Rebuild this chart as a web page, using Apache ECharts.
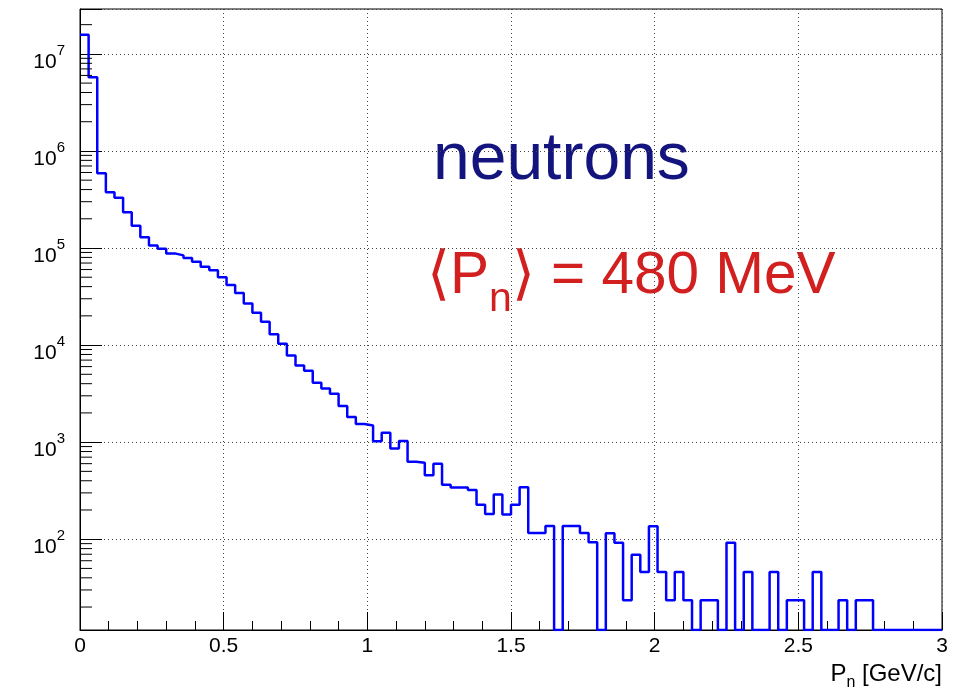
<!DOCTYPE html>
<html>
<head>
<meta charset="utf-8">
<script src="https://cdn.jsdelivr.net/npm/echarts@6/dist/echarts.min.js"></script>
<style>
html, body { margin: 0; padding: 0; background: #fff; }
#chart { width: 962px; height: 692px; }
</style>
</head>
<body>
<div id="chart"></div>
<script>
// neutron momentum histogram: 100 bins of 0.03 GeV/c between 0 and 3
const binLow = 0
const binWidth = 0.03
const counts = [
  1.57e7, 5.74e6, 5.9e5, 3.75e5, 3.3e5, 2.33e5, 1.7e5, 1.29e5, 1.06e5, 9.8e4,
  8.8e4, 8.4e4, 7.9e4, 7.2e4, 6.4e4, 5.9e4, 5.0e4, 4.16e4, 3.43e4, 2.68e4,
  2.15e4, 1.74e4, 1.29e4, 1.03e4, 7800, 6150, 5450, 4080, 3560, 3150,
  2360, 1820, 1540, 1485, 1020, 1250, 860, 1030, 628, 614,
  455, 600, 364, 340, 340, 322, 226, 182, 288, 180,
  226, 342, 116, 116, 137, 0, 137, 137, 116, 93,
  0, 115, 92, 23.5, 69, 46, 136, 46, 23.5, 46,
  23.5, 0, 23.5, 23.5, 0, 92, 0, 46, 0, 0,
  46, 0, 23.5, 23.5, 0, 46, 0, 0, 23.5, 0,
  23.5, 23.5, 0, 0, 0, 0, 0, 0, 0, 0
]
const xTicks = [0, 0.5, 1, 1.5, 2, 2.5, 3]
const yDecades = [1, 2, 3, 4, 5, 6, 7]
const yMin = 11.6
const yMax = 2.9e7

const FONT = '"Liberation Sans", Arial, Helvetica, sans-serif'

// step line through the left edge of every bin; empty bins sit on the frame like ROOT does
let histData = counts.map((c, i) => [binLow + i * binWidth, c > yMin ? c : yMin])
histData.push([xTicks[xTicks.length - 1], histData[histData.length - 1][1]])

// ROOT style minor ticks at 2..9 x 10^n
let minorVals = []
yDecades.forEach(d => {
  for (let m = 2; m <= 9; m++) {
    let v = m * Math.pow(10, d)
    if (v > yMin && v < yMax) minorVals.push([0, v])
  }
})

let myChart = echarts.init(document.getElementById('chart'))

myChart.setOption({
  animation: false,
  grid: {
    left: 80,
    right: 20,
    top: 9,
    bottom: 62,
    show: true,
    borderColor: '#000',
    borderWidth: 1
  },
  xAxis: {
    type: 'value',
    min: xTicks[0],
    max: xTicks[xTicks.length - 1],
    interval: 0.5,
    axisLine: { lineStyle: { color: '#000', width: 1 } },
    axisTick: { inside: true, length: 18, lineStyle: { color: '#000' } },
    minorTick: { show: true, splitNumber: 5, length: 9, lineStyle: { color: '#000' } },
    axisLabel: { color: '#000', fontSize: 21, fontFamily: FONT, margin: 6 },
    splitLine: { lineStyle: { type: [1, 3], color: '#444' } }
  },
  yAxis: {
    type: 'log',
    logBase: 10,
    min: yMin,
    max: yMax,
    axisLine: { show: true, lineStyle: { color: '#000', width: 1 } },
    axisTick: { inside: true, length: 22, lineStyle: { color: '#000' } },
    axisLabel: {
      margin: 15,
      padding: [8, 0, 0, 0],
      formatter: function (v) {
        let e = Math.log10(v)
        let r = Math.round(e)
        if (Math.abs(e - r) > 1e-6) return ''
        return '{b|10}{e|' + r + '}'
      },
      rich: {
        b: { fontSize: 21, fontFamily: FONT, color: '#000', verticalAlign: 'bottom' },
        e: { fontSize: 15, fontFamily: FONT, color: '#000', verticalAlign: 'bottom', padding: [0, 0, 14, 0] }
      }
    },
    splitLine: { lineStyle: { type: [1, 3], color: '#444' } }
  },
  series: [
    {
      type: 'line',
      name: 'neutrons',
      step: 'end',
      showSymbol: false,
      symbol: 'none',
      data: histData,
      lineStyle: { color: '#0000ff', width: 2.5 }
    },
    {
      type: 'custom',
      silent: true,
      z: 5,
      data: minorVals,
      renderItem: function (params, api) {
        let p = api.coord([api.value(0), api.value(1)])
        return {
          type: 'line',
          shape: { x1: p[0], y1: p[1], x2: p[0] + 12, y2: p[1] },
          style: { stroke: '#000', lineWidth: 1 }
        }
      }
    }
  ],
  graphic: [
    {
      type: 'text',
      left: 433,
      top: 128,
      style: { text: 'neutrons', font: '66px ' + FONT, fill: '#14147f' }
    },
    {
      type: 'text',
      x: 427,
      y: 320,
      style: {
        text: '{a|\u27e8P}{s|n}{a|\u27e9 = 480 MeV}',
        textAlign: 'left',
        textVerticalAlign: 'bottom',
        rich: {
          a: { fontSize: 58.5, fontFamily: FONT, fill: '#d21f1f', verticalAlign: 'bottom', padding: [0, 0, 14, 0] },
          s: { fontSize: 41, fontFamily: FONT, fill: '#d21f1f', verticalAlign: 'bottom' }
        }
      }
    },
    {
      type: 'text',
      x: 942,
      y: 691,
      style: {
        text: '{a|P}{s|n}{a| [GeV/c]}',
        textAlign: 'right',
        textVerticalAlign: 'bottom',
        rich: {
          a: { fontSize: 24, fontFamily: FONT, fill: '#000', verticalAlign: 'bottom', padding: [0, 0, 5, 0] },
          s: { fontSize: 16, fontFamily: FONT, fill: '#000', verticalAlign: 'bottom' }
        }
      }
    }
  ]
})

window.addEventListener('resize', () => {
  myChart.resize()
})
</script>
</body>
</html>
